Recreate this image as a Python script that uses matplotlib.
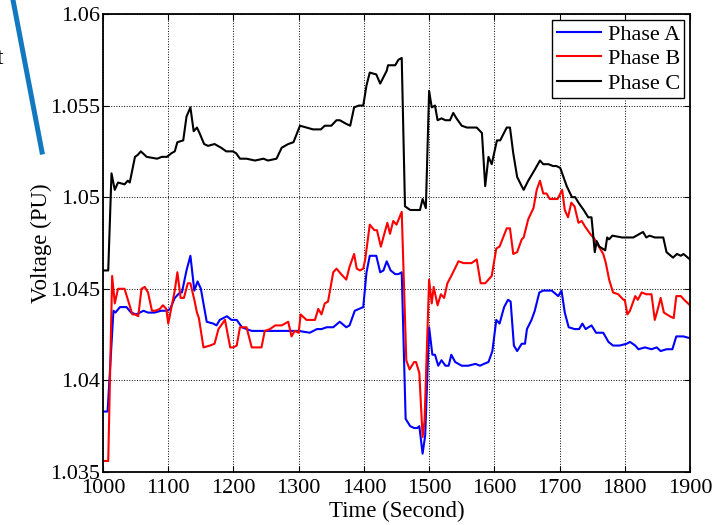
import matplotlib
matplotlib.use('Agg')
import matplotlib.pyplot as plt
from matplotlib.lines import Line2D
from matplotlib.ticker import MultipleLocator, FuncFormatter

# Phase A
t_a = [1000, 1007, 1016, 1019, 1026, 1036, 1043, 1051, 1062, 1069, 1079, 1089, 1098, 1103,
       1110, 1118, 1121, 1128, 1134, 1140, 1145, 1150, 1159, 1169, 1174, 1179, 1190, 1197,
       1205, 1213, 1220, 1228, 1248, 1259, 1274, 1289, 1300, 1317, 1328, 1335, 1343, 1353,
       1363, 1373, 1378, 1386, 1399, 1404, 1409, 1419, 1425, 1430, 1435, 1441, 1448, 1453,
       1458, 1464, 1471, 1477, 1482, 1485, 1490, 1494, 1500, 1505, 1509, 1514, 1519, 1525,
       1530, 1534, 1540, 1550, 1560, 1571, 1578, 1584, 1591, 1597, 1603, 1608, 1615, 1621,
       1625, 1630, 1635, 1642, 1647, 1650, 1657, 1662, 1669, 1675, 1688, 1698, 1703, 1708,
       1714, 1723, 1730, 1735, 1740, 1749, 1756, 1767, 1775, 1782, 1792, 1803, 1808, 1816,
       1821, 1831, 1841, 1849, 1855, 1864, 1873, 1879, 1890, 1900]
v_a = [1.0383, 1.0383, 1.0438, 1.0437, 1.0440, 1.0440, 1.0437, 1.0436, 1.0438, 1.0437,
       1.0437, 1.0438, 1.0438, 1.0439, 1.0445, 1.0448, 1.0448, 1.0460, 1.0468, 1.0449,
       1.0454, 1.0450, 1.0432, 1.0431, 1.0430, 1.0433, 1.0435, 1.0433, 1.0433, 1.0429,
       1.0428, 1.0427, 1.0427, 1.0427, 1.0427, 1.0427, 1.0427, 1.0426, 1.0428, 1.0428,
       1.0429, 1.0429, 1.0432, 1.0429, 1.0430, 1.0438, 1.0440, 1.0459, 1.0468, 1.0468,
       1.0459, 1.0460, 1.0465, 1.0460, 1.0458, 1.0458, 1.0459, 1.0379, 1.0375, 1.0374,
       1.0374, 1.0375, 1.0360, 1.0370, 1.0429, 1.0414, 1.0414, 1.0408, 1.0411, 1.0408,
       1.0408, 1.0414, 1.0410, 1.0408, 1.0408, 1.0409, 1.0408, 1.0409, 1.0410, 1.0416,
       1.0433, 1.0431, 1.0440, 1.0444, 1.0443, 1.0419, 1.0416, 1.0420, 1.0420, 1.0428,
       1.0433, 1.0438, 1.0448, 1.0449, 1.0449, 1.0446, 1.0449, 1.0437, 1.0429, 1.0428,
       1.0428, 1.0431, 1.0428, 1.0430, 1.0426, 1.0426, 1.0421, 1.0419, 1.0419, 1.0420,
       1.0421, 1.0419, 1.0417, 1.0418, 1.0417, 1.0418, 1.0416, 1.0417, 1.0417, 1.0424,
       1.0424, 1.0423]

# Phase B
t_b = [1000, 1008, 1014, 1018, 1023, 1033, 1039, 1045, 1049, 1054, 1059, 1064, 1069, 1075,
       1080, 1087, 1092, 1097, 1100, 1105, 1110, 1114, 1119, 1124, 1130, 1134, 1140, 1144,
       1147, 1154, 1164, 1171, 1177, 1187, 1195, 1200, 1205, 1210, 1220, 1228, 1243, 1248,
       1256, 1264, 1274, 1284, 1289, 1294, 1300, 1303, 1312, 1320, 1325, 1330, 1335, 1340,
       1345, 1353, 1358, 1365, 1373, 1378, 1385, 1389, 1394, 1399, 1402, 1409, 1416, 1420,
       1426, 1429, 1436, 1440, 1445, 1450, 1458, 1465, 1470, 1477, 1480, 1485, 1490, 1493,
       1500, 1504, 1507, 1513, 1518, 1523, 1528, 1534, 1545, 1553, 1565, 1573, 1579, 1586,
       1596, 1603, 1608, 1619, 1624, 1629, 1635, 1642, 1645, 1652, 1660, 1665, 1670, 1675,
       1680, 1685, 1692, 1697, 1704, 1708, 1713, 1718, 1723, 1729, 1734, 1739, 1747, 1754,
       1762, 1767, 1771, 1776, 1782, 1790, 1798, 1800, 1804, 1808, 1816, 1820, 1826, 1833,
       1841, 1846, 1850, 1855, 1860, 1869, 1875, 1879, 1886, 1891, 1900]
v_b = [1.0356, 1.0356, 1.0457, 1.0442, 1.0450, 1.0450, 1.0443, 1.0436, 1.0436, 1.0435,
       1.0450, 1.0451, 1.0448, 1.0438, 1.0438, 1.0439, 1.0441, 1.0439, 1.0431, 1.0440,
       1.0449, 1.0459, 1.0445, 1.0445, 1.0453, 1.0453, 1.0444, 1.0437, 1.0434, 1.0418,
       1.0419, 1.0420, 1.0428, 1.0433, 1.0418, 1.0418, 1.0419, 1.0429, 1.0429, 1.0418,
       1.0418, 1.0427, 1.0428, 1.0430, 1.0430, 1.0432, 1.0424, 1.0427, 1.0426, 1.0436,
       1.0433, 1.0433, 1.0433, 1.0439, 1.0436, 1.0442, 1.0443, 1.0459, 1.0461, 1.0458,
       1.0455, 1.0462, 1.0469, 1.0461, 1.0460, 1.0461, 1.0466, 1.0485, 1.0482, 1.0482,
       1.0473, 1.0477, 1.0486, 1.0480, 1.0487, 1.0485, 1.0492, 1.0411, 1.0406, 1.0410,
       1.0410, 1.0404, 1.0369, 1.0378, 1.0455, 1.0442, 1.0451, 1.0441, 1.0447, 1.0445,
       1.0453, 1.0457, 1.0465, 1.0464, 1.0464, 1.0466, 1.0453, 1.0453, 1.0457, 1.0472,
       1.0473, 1.0483, 1.0483, 1.0469, 1.0470, 1.0477, 1.0478, 1.0488, 1.0494, 1.0504,
       1.0509, 1.0502, 1.0502, 1.0499, 1.0499, 1.0499, 1.0504, 1.0493, 1.0489, 1.0497,
       1.0495, 1.0486, 1.0487, 1.0484, 1.0480, 1.0477, 1.0472, 1.0469, 1.0464, 1.0455,
       1.0448, 1.0447, 1.0444, 1.0444, 1.0436, 1.0438, 1.0446, 1.0444, 1.0448, 1.0447,
       1.0447, 1.0433, 1.0438, 1.0445, 1.0437, 1.0435, 1.0434, 1.0446, 1.0446, 1.0444,
       1.0441]

# Phase C
t_c = [1000, 1008, 1013, 1018, 1023, 1033, 1038, 1041, 1049, 1053, 1058, 1067, 1083, 1090,
       1098, 1105, 1110, 1114, 1123, 1128, 1134, 1139, 1144, 1148, 1155, 1161, 1171, 1181,
       1189, 1199, 1204, 1210, 1220, 1233, 1246, 1253, 1266, 1274, 1284, 1292, 1302, 1312,
       1322, 1334, 1340, 1350, 1358, 1363, 1373, 1379, 1385, 1392, 1399, 1404, 1409, 1419,
       1425, 1435, 1437, 1448, 1453, 1458, 1463, 1471, 1478, 1486, 1490, 1495, 1500, 1504,
       1509, 1513, 1519, 1525, 1532, 1537, 1542, 1550, 1558, 1573, 1581, 1586, 1591, 1596,
       1604, 1609, 1619, 1624, 1629, 1635, 1642, 1645, 1652, 1662, 1670, 1675, 1683, 1690,
       1695, 1701, 1706, 1711, 1719, 1724, 1729, 1737, 1744, 1749, 1754, 1757, 1761, 1770,
       1773, 1776, 1781, 1796, 1813, 1823, 1828, 1833, 1838, 1846, 1859, 1864, 1874, 1880,
       1886, 1890, 1900]
v_c = [1.0460, 1.0460, 1.0513, 1.0504, 1.0508, 1.0507, 1.0509, 1.0508, 1.0522, 1.0523,
       1.0525, 1.0522, 1.0521, 1.0522, 1.0522, 1.0524, 1.0525, 1.0530, 1.0531, 1.0544,
       1.0549, 1.0536, 1.0538, 1.0535, 1.0529, 1.0528, 1.0529, 1.0527, 1.0525, 1.0525,
       1.0524, 1.0521, 1.0521, 1.0520, 1.0521, 1.0520, 1.0521, 1.0527, 1.0529, 1.0530,
       1.0539, 1.0538, 1.0537, 1.0537, 1.0539, 1.0539, 1.0542, 1.0542, 1.0540, 1.0539,
       1.0549, 1.0550, 1.0550, 1.0561, 1.0568, 1.0567, 1.0562, 1.0569, 1.0572, 1.0572,
       1.0575, 1.0576, 1.0495, 1.0493, 1.0493, 1.0493, 1.0499, 1.0494, 1.0558, 1.0549,
       1.0550, 1.0542, 1.0543, 1.0542, 1.0542, 1.0546, 1.0543, 1.0539, 1.0538, 1.0538,
       1.0535, 1.0506, 1.0522, 1.0518, 1.0531, 1.0531, 1.0538, 1.0538, 1.0524, 1.0511,
       1.0506, 1.0504, 1.0509, 1.0515, 1.0520, 1.0518, 1.0518, 1.0517, 1.0517, 1.0516,
       1.0511, 1.0506, 1.0500, 1.0500, 1.0497, 1.0493, 1.0489, 1.0489, 1.0470, 1.0476,
       1.0473, 1.0471, 1.0478, 1.0477, 1.0479, 1.0478, 1.0478, 1.0480, 1.0481, 1.0478,
       1.0479, 1.0478, 1.0478, 1.0470, 1.0467, 1.0469, 1.0468, 1.0469, 1.0466]

plt.rcParams['font.family'] = ['Liberation Serif', 'DejaVu Serif']

fig = plt.figure(figsize=(7.26, 5.25), dpi=100)
ax = fig.add_axes([0.1419, 0.1010, 0.8085, 0.8724])

ax.plot(t_a, v_a, color='#0000ff', lw=1.5, label='Phase A')
ax.plot(t_b, v_b, color='#ff0000', lw=1.5, label='Phase B')
ax.plot(t_c, v_c, color='black', lw=1.5, label='Phase C')

ax.set_xlim(1000, 1900)
ax.set_ylim(1.035, 1.06)
ax.xaxis.set_major_locator(MultipleLocator(100))
ax.yaxis.set_major_locator(MultipleLocator(0.005))
ax.yaxis.set_major_formatter(FuncFormatter(lambda v, p: f'{v:g}'))
ax.grid(True, color='black', linestyle=':', linewidth=0.7)
ax.tick_params(direction='in', top=True, right=True, length=4, width=0.8,
               labelsize=16, pad=2)
ax.tick_params(axis='x', pad=5)
for s in ax.spines.values():
    s.set_linewidth(1.3)

ax.set_xlabel('Time (Second)', fontsize=16.5, labelpad=2)
ax.set_ylabel('Voltage (PU)', fontsize=16.5, labelpad=-1)

leg = ax.legend(loc='upper right', fontsize=16, fancybox=False, framealpha=1,
                edgecolor='black', borderaxespad=0.25, handlelength=2.0,
                borderpad=0.2, labelspacing=0.18, handletextpad=0.3)
leg.get_frame().set_linewidth(1.0)

# blue stroke and text fragment on the left margin
fig.add_artist(Line2D([13 / 726, 42 / 726], [1.0, 1 - 152 / 525],
                      color='#1279c0', lw=3.6, transform=fig.transFigure))
fig.text(-0.004, 1 - 58 / 525, 't', fontsize=17, va='center', ha='left')

fig.savefig('out.png', dpi=100)
